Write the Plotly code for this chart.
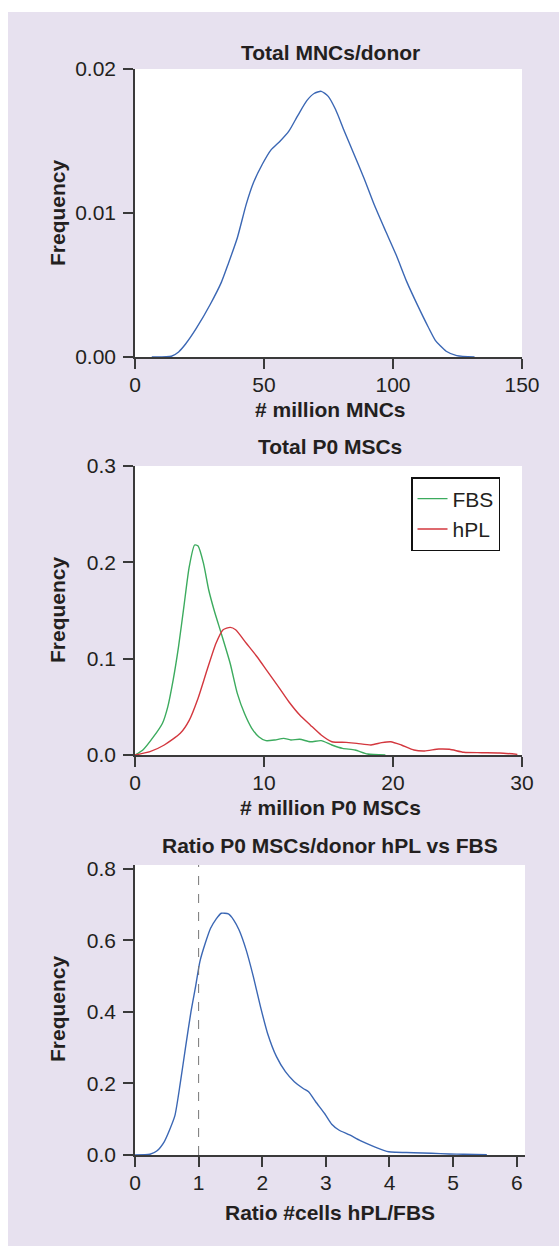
import plotly.graph_objects as go

W, H = 559, 1246

# ---------------- data ----------------
# Panel 1: Total MNCs/donor
mnc_x = [6.5, 14.1, 16.9, 19.6, 23.8, 29.3, 33.5, 36.2, 39.7, 43.1, 45.9, 49.4, 52.8, 56.3,
         59.7, 63.2, 66.6, 69.4, 72.2, 74.9, 77.7, 81.1, 84.6, 88.8, 92.9, 97.0, 101.2,
         105.4, 109.5, 113.6, 116.4, 120.6, 124.7, 131.6]
mnc_y = [0.0, 0.00005, 0.00035, 0.0009, 0.0020, 0.0037, 0.0052, 0.0065, 0.0083, 0.0106,
         0.0121, 0.0134, 0.0144, 0.0150, 0.0157, 0.0168, 0.0178, 0.0183, 0.01845, 0.0181,
         0.0172, 0.0157, 0.0142, 0.0124, 0.0105, 0.0088, 0.0071, 0.0052, 0.0036, 0.0021,
         0.00116, 0.0004, 0.0001, 0.0]

# Panel 2: Total P0 MSCs
fbs_x = [0.0, 0.61, 1.44, 2.13, 2.54, 2.96, 3.37, 3.79, 4.20, 4.62, 4.89, 5.31, 5.72, 6.14,
         6.69, 7.38, 7.93, 8.49, 9.04, 9.59, 10.15, 10.84, 11.53, 12.08, 12.77, 13.60,
         14.43, 15.26, 16.09, 17.06, 18.03, 19.41]
fbs_y = [0.0, 0.0052, 0.019, 0.033, 0.050, 0.078, 0.112, 0.154, 0.195, 0.218, 0.217, 0.199,
         0.171, 0.150, 0.126, 0.095, 0.064, 0.043, 0.028, 0.019, 0.0149, 0.0156, 0.0173,
         0.0156, 0.0163, 0.0138, 0.0149, 0.0104, 0.0069, 0.0052, 0.001, 0.0]
hpl_x = [0.0, 1.16, 2.27, 3.51, 4.20, 4.89, 5.58, 6.28, 6.83, 7.38, 7.80, 8.63, 9.46, 10.28,
         11.11, 11.94, 12.77, 13.60, 14.43, 15.26, 16.37, 17.20, 18.30, 19.13, 19.82, 20.65,
         21.62, 22.45, 23.55, 24.38, 25.49, 26.87, 28.26, 29.64]
hpl_y = [0.0, 0.0035, 0.0104, 0.0225, 0.036, 0.059, 0.088, 0.116, 0.130, 0.1325, 0.130,
         0.116, 0.102, 0.0865, 0.071, 0.055, 0.0415, 0.031, 0.0208, 0.0138, 0.0131, 0.0121,
         0.0104, 0.0128, 0.0138, 0.0104, 0.0052, 0.0042, 0.0062, 0.0059, 0.0028, 0.0024,
         0.0021, 0.0007]

# Panel 3: Ratio hPL/FBS
ratio_x = [0.0, 0.235, 0.347, 0.459, 0.543, 0.627, 0.711, 0.796, 0.880, 0.952, 1.020, 1.104,
           1.188, 1.272, 1.356, 1.468, 1.552, 1.636, 1.748, 1.860, 1.972, 2.084, 2.224,
           2.364, 2.504, 2.644, 2.728, 2.840, 2.980, 3.092, 3.204, 3.373, 3.541, 3.765,
           3.989, 4.10, 4.38, 4.66, 4.94, 5.17, 5.53]
ratio_y = [0.0, 0.002, 0.012, 0.037, 0.070, 0.110, 0.200, 0.303, 0.401, 0.471, 0.541, 0.592,
           0.634, 0.659, 0.676, 0.674, 0.657, 0.629, 0.573, 0.499, 0.415, 0.340, 0.275,
           0.233, 0.205, 0.186, 0.177, 0.149, 0.116, 0.086, 0.070, 0.056, 0.040, 0.023,
           0.009, 0.0075, 0.0065, 0.0047, 0.0028, 0.0019, 0.0009]
ratio_ref = 1

titles = ["Total MNCs/donor", "Total P0 MSCs", "Ratio P0 MSCs/donor hPL vs FBS"]
x_titles = ["# million MNCs", "# million P0 MSCs", "Ratio #cells hPL/FBS"]
y_title = "Frequency"
series_names = ["FBS", "hPL"]

x1_ticks = [0, 50, 100, 150]
y1_ticks = [0, 0.01, 0.02]
x2_ticks = [0, 10, 20, 30]
y2_ticks = [0, 0.1, 0.2, 0.3]
x3_ticks = [0, 1, 2, 3, 4, 5, 6]
y3_ticks = [0, 0.2, 0.4, 0.6, 0.8]

# ---------------- styling ----------------
BLUE = "#3b67b4"
GREEN = "#3cab5e"
RED = "#d3373e"
LAV = "#e7e1ef"
AX = "#3a3a3a"
TXT = "#231f20"
FONT = "Liberation Sans, Arial, sans-serif"
FS = 21


def px(x):
    return x / W


def py(y):
    return 1 - y / H


fig = go.Figure()
fig.add_trace(go.Scatter(x=mnc_x, y=mnc_y, mode="lines", xaxis="x", yaxis="y",
                         line=dict(color=BLUE, width=1.4, shape="spline", smoothing=0.6),
                         showlegend=False))
fig.add_trace(go.Scatter(x=fbs_x, y=fbs_y, mode="lines", xaxis="x2", yaxis="y2",
                         name=series_names[0],
                         line=dict(color=GREEN, width=1.4, shape="spline", smoothing=0.6)))
fig.add_trace(go.Scatter(x=hpl_x, y=hpl_y, mode="lines", xaxis="x2", yaxis="y2",
                         name=series_names[1],
                         line=dict(color=RED, width=1.4, shape="spline", smoothing=0.6)))
fig.add_trace(go.Scatter(x=ratio_x, y=ratio_y, mode="lines", xaxis="x3", yaxis="y3",
                         line=dict(color=BLUE, width=1.4, shape="spline", smoothing=0.6),
                         showlegend=False))


def xax(dom, rng, ticks, anchor):
    return dict(domain=dom, range=rng, anchor=anchor, tickvals=ticks, showline=True,
                linecolor=AX, linewidth=1.5, ticks="outside", ticklen=10, tickwidth=1.5,
                tickcolor=AX, tickfont=dict(family=FONT, size=FS, color=TXT),
                ticklabelstandoff=-2, automargin=False,
                showgrid=False, zeroline=False, fixedrange=True)


def yax(dom, rng, ticks, anchor, fmt):
    return dict(domain=dom, range=rng, anchor=anchor, tickvals=ticks, tickformat=fmt,
                showline=True, linecolor=AX, linewidth=1.5, ticks="outside", ticklen=10,
                tickwidth=1.5, tickcolor=AX, tickfont=dict(family=FONT, size=FS, color=TXT),
                ticklabelstandoff=3, automargin=False,
                showgrid=False, zeroline=False, fixedrange=True)


# plot rectangles in pixels: (left, top, right, bottom)
P1 = (135, 69, 522, 357)
P2 = (135, 466, 522, 755)
P3 = (135, 865, 525, 1155)

fig.update_layout(
    width=W, height=H,
    margin=dict(l=0, r=0, t=0, b=0, pad=0, autoexpand=False),
    paper_bgcolor=LAV, plot_bgcolor="white",
    xaxis=xax([px(P1[0]), px(P1[2])], [0, 150], x1_ticks, "y"),
    yaxis=yax([py(P1[3]), py(P1[1])], [0, 0.02], y1_ticks, "x", ".2f"),
    xaxis2=xax([px(P2[0]), px(P2[2])], [0, 30], x2_ticks, "y2"),
    yaxis2=yax([py(P2[3]), py(P2[1])], [0, 0.3], y2_ticks, "x2", ".1f"),
    xaxis3=xax([px(P3[0]), px(P3[2])], [0, 6.13], x3_ticks, "y3"),
    yaxis3=yax([py(P3[3]), py(P3[1])], [0, 0.811], y3_ticks, "x3", ".1f"),
    showlegend=True,
    legend=dict(x=px(411), y=py(477), xanchor="left", yanchor="top",
                bgcolor="white", bordercolor="#111111", borderwidth=1.5,
                font=dict(family=FONT, size=FS, color=TXT), tracegroupgap=0,
                itemwidth=30),
)

# white page margin around the lavender panel
fig.add_shape(type="rect", xref="paper", yref="paper", x0=0, x1=1, y0=py(12), y1=1,
              fillcolor="white", line=dict(width=0), layer="below")
fig.add_shape(type="rect", xref="paper", yref="paper", x0=0, x1=px(8), y0=0, y1=1,
              fillcolor="white", line=dict(width=0), layer="below")

# dashed reference line at ratio = 1
fig.add_shape(type="line", xref="x3", yref="y3 domain", x0=ratio_ref, x1=ratio_ref,
              y0=0, y1=1, line=dict(color="#777777", width=1, dash="dash"))

tfont = dict(family=FONT, size=FS, color=TXT, weight="bold")
title_y = [53, 447, 845]
xt_y = [409, 808, 1212]
yt_y = [213, 610, 1009]
for t, ty in zip(titles, title_y):
    fig.add_annotation(text=t, x=px(330), y=py(ty), xref="paper", yref="paper",
                       xanchor="center", yanchor="middle", showarrow=False, font=tfont)
for t, ty in zip(x_titles, xt_y):
    fig.add_annotation(text=t, x=px(330), y=py(ty), xref="paper", yref="paper",
                       xanchor="center", yanchor="middle", showarrow=False, font=tfont)
for ty in yt_y:
    fig.add_annotation(text=y_title, x=px(57), y=py(ty), xref="paper", yref="paper",
                       xanchor="center", yanchor="middle", showarrow=False, font=tfont,
                       textangle=-90)

fig.write_html("out.html")
